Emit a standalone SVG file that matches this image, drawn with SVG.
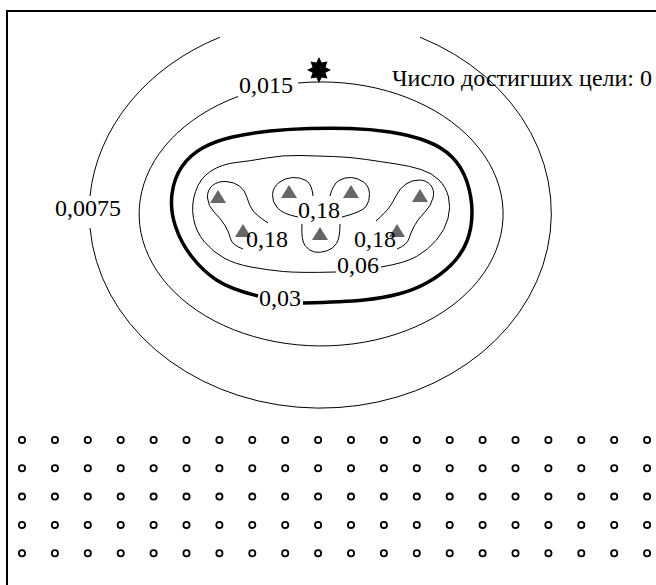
<svg xmlns="http://www.w3.org/2000/svg" width="656" height="585" viewBox="0 0 656 585">
<style>
.c{fill:none;stroke:#000;stroke-width:1}
.thick{fill:none;stroke:#000;stroke-width:3.5}
.tri{fill:#666}
.dot{fill:#fff;stroke:#000;stroke-width:1.8}
text{font-family:"Liberation Serif","Times New Roman",serif;font-size:24px;fill:#000}
</style>
<defs>
<circle id="d" r="3.1" class="dot"/>
<polygon id="t" points="0,-7 8,6 -8,6" class="tri"/>
</defs>
<g id="frame">
<line x1="7" y1="11" x2="656" y2="11" stroke="#000" stroke-width="2"/>
<line x1="7" y1="10" x2="7" y2="585" stroke="#000" stroke-width="2"/>
</g>
<g id="contours">
<path class="c" d="M220 37.2 A231 195 0 0 0 90 196"/>
<path class="c" d="M90 228 A231 195 0 1 0 420 37.2"/>
<path class="c" d="M298 83 A182 132 0 1 1 238 96.5"/>
<path class="thick" d="M258 296 Q230 289 216.5 280 Q203 271 192 257 Q181 243 175.5 226.5 Q170 210 172 194 Q174 178 182 166.5 Q190 155 202.5 148 Q215 141 232.5 137 Q250 133 270 131 Q290 129 310 128.5 Q330 128 350 128.5 Q370 129 390 132 Q410 135 426 141 Q442 147 452 157 Q462 167 467 182 Q472 197 472 212.5 Q472 228 467 241 Q462 254 451.5 264.5 Q441 275 427.5 282.5 Q414 290 398.5 294 Q383 298 364 300 Q345 302 303 303"/>
<path class="c" d="M381 267 Q405 263 416.5 256.5 Q428 250 436.5 240 Q445 230 448 218.5 Q451 207 448.5 197 Q446 187 439 180 Q432 173 421 169.5 Q410 166 396.5 164 Q383 162 366.5 159.5 Q350 157 333.5 156.5 Q317 156 300 155.5 Q283 155 266.5 158 Q250 161 236 162.5 Q222 164 211 171 Q200 178 195.5 191.5 Q191 205 193.5 218.5 Q196 232 204.5 242 Q213 252 224 258 Q235 264 251 267 Q267 270 283.5 271.5 Q300 273 336 272"/>
<path class="c" d="M268 223 Q256 215 252.5 210 Q249 205 247 197.5 Q245 190 239.5 186 Q234 182 226 181.5 Q218 181 212.5 185.5 Q207 190 207.5 198 Q208 206 214.5 212.5 Q221 219 225 225.5 Q229 232 230.5 238.5 Q232 245 243 249"/>
<path class="c" d="M376 221 Q386 212 389.5 207 Q393 202 396.5 195 Q400 188 406 184 Q412 180 419 180 Q426 180 430.5 185 Q435 190 433 198 Q431 206 424.5 212.5 Q418 219 414.5 225.5 Q411 232 409 238.5 Q407 245 397 249"/>
<path class="c" d="M313 196 Q312 184 306 180.5 Q300 177 292.5 177.5 Q285 178 279 182.5 Q273 187 272.5 194.5 Q272 202 277.5 208 Q283 214 298 217"/>
<path class="c" d="M330 196 Q333 184 339 180.5 Q345 177 351.5 177.5 Q358 178 363.5 182 Q369 186 369.5 193.5 Q370 201 366 206.5 Q362 212 342 217"/>
<path class="c" d="M302 224 Q301 240 305 245.5 Q309 251 314.5 252 Q320 253 326.5 251 Q333 249 336.5 243.5 Q340 238 340 224"/>
</g>
<g id="sources">
<use href="#t" x="218" y="197"/>
<use href="#t" x="243" y="231"/>
<use href="#t" x="289" y="192"/>
<use href="#t" x="320" y="234"/>
<use href="#t" x="351" y="192"/>
<use href="#t" x="420" y="196"/>
<use href="#t" x="397" y="231"/>
</g>
<g id="star">
<polygon fill="#000" points="319,57 321.68,62.53 327.49,61.51 325.47,67.32 331,70 325.47,72.68 327.49,78.49 321.68,77.47 319,83 316.32,77.47 310.51,78.49 312.53,72.68 307,70 312.53,67.32 310.51,61.51 316.32,62.53"/>
</g>
<g id="labels">
<text x="266" y="93" text-anchor="middle">0,015</text>
<text x="392" y="86">Число достигших цели: 0</text>
<text x="88" y="216" text-anchor="middle">0,0075</text>
<text x="267" y="247" text-anchor="middle">0,18</text>
<text x="319" y="218" text-anchor="middle">0,18</text>
<text x="375" y="247" text-anchor="middle">0,18</text>
<text x="358" y="273" text-anchor="middle">0,06</text>
<text x="280" y="306" text-anchor="middle">0,03</text>
</g>
<g id="grid">
<g id="row1" transform="translate(0,440)">
<use href="#d" x="22"/><use href="#d" x="54.9"/><use href="#d" x="87.8"/><use href="#d" x="120.7"/><use href="#d" x="153.6"/><use href="#d" x="186.5"/><use href="#d" x="219.4"/><use href="#d" x="252.3"/><use href="#d" x="285.2"/><use href="#d" x="318.1"/><use href="#d" x="351"/><use href="#d" x="383.9"/><use href="#d" x="416.8"/><use href="#d" x="449.7"/><use href="#d" x="482.6"/><use href="#d" x="515.5"/><use href="#d" x="548.4"/><use href="#d" x="581.3"/><use href="#d" x="614.2"/><use href="#d" x="647.1"/>
</g>
<use href="#row1" y="28.3"/>
<use href="#row1" y="56.6"/>
<use href="#row1" y="84.9"/>
<use href="#row1" y="113.2"/>
</g>
</svg>
